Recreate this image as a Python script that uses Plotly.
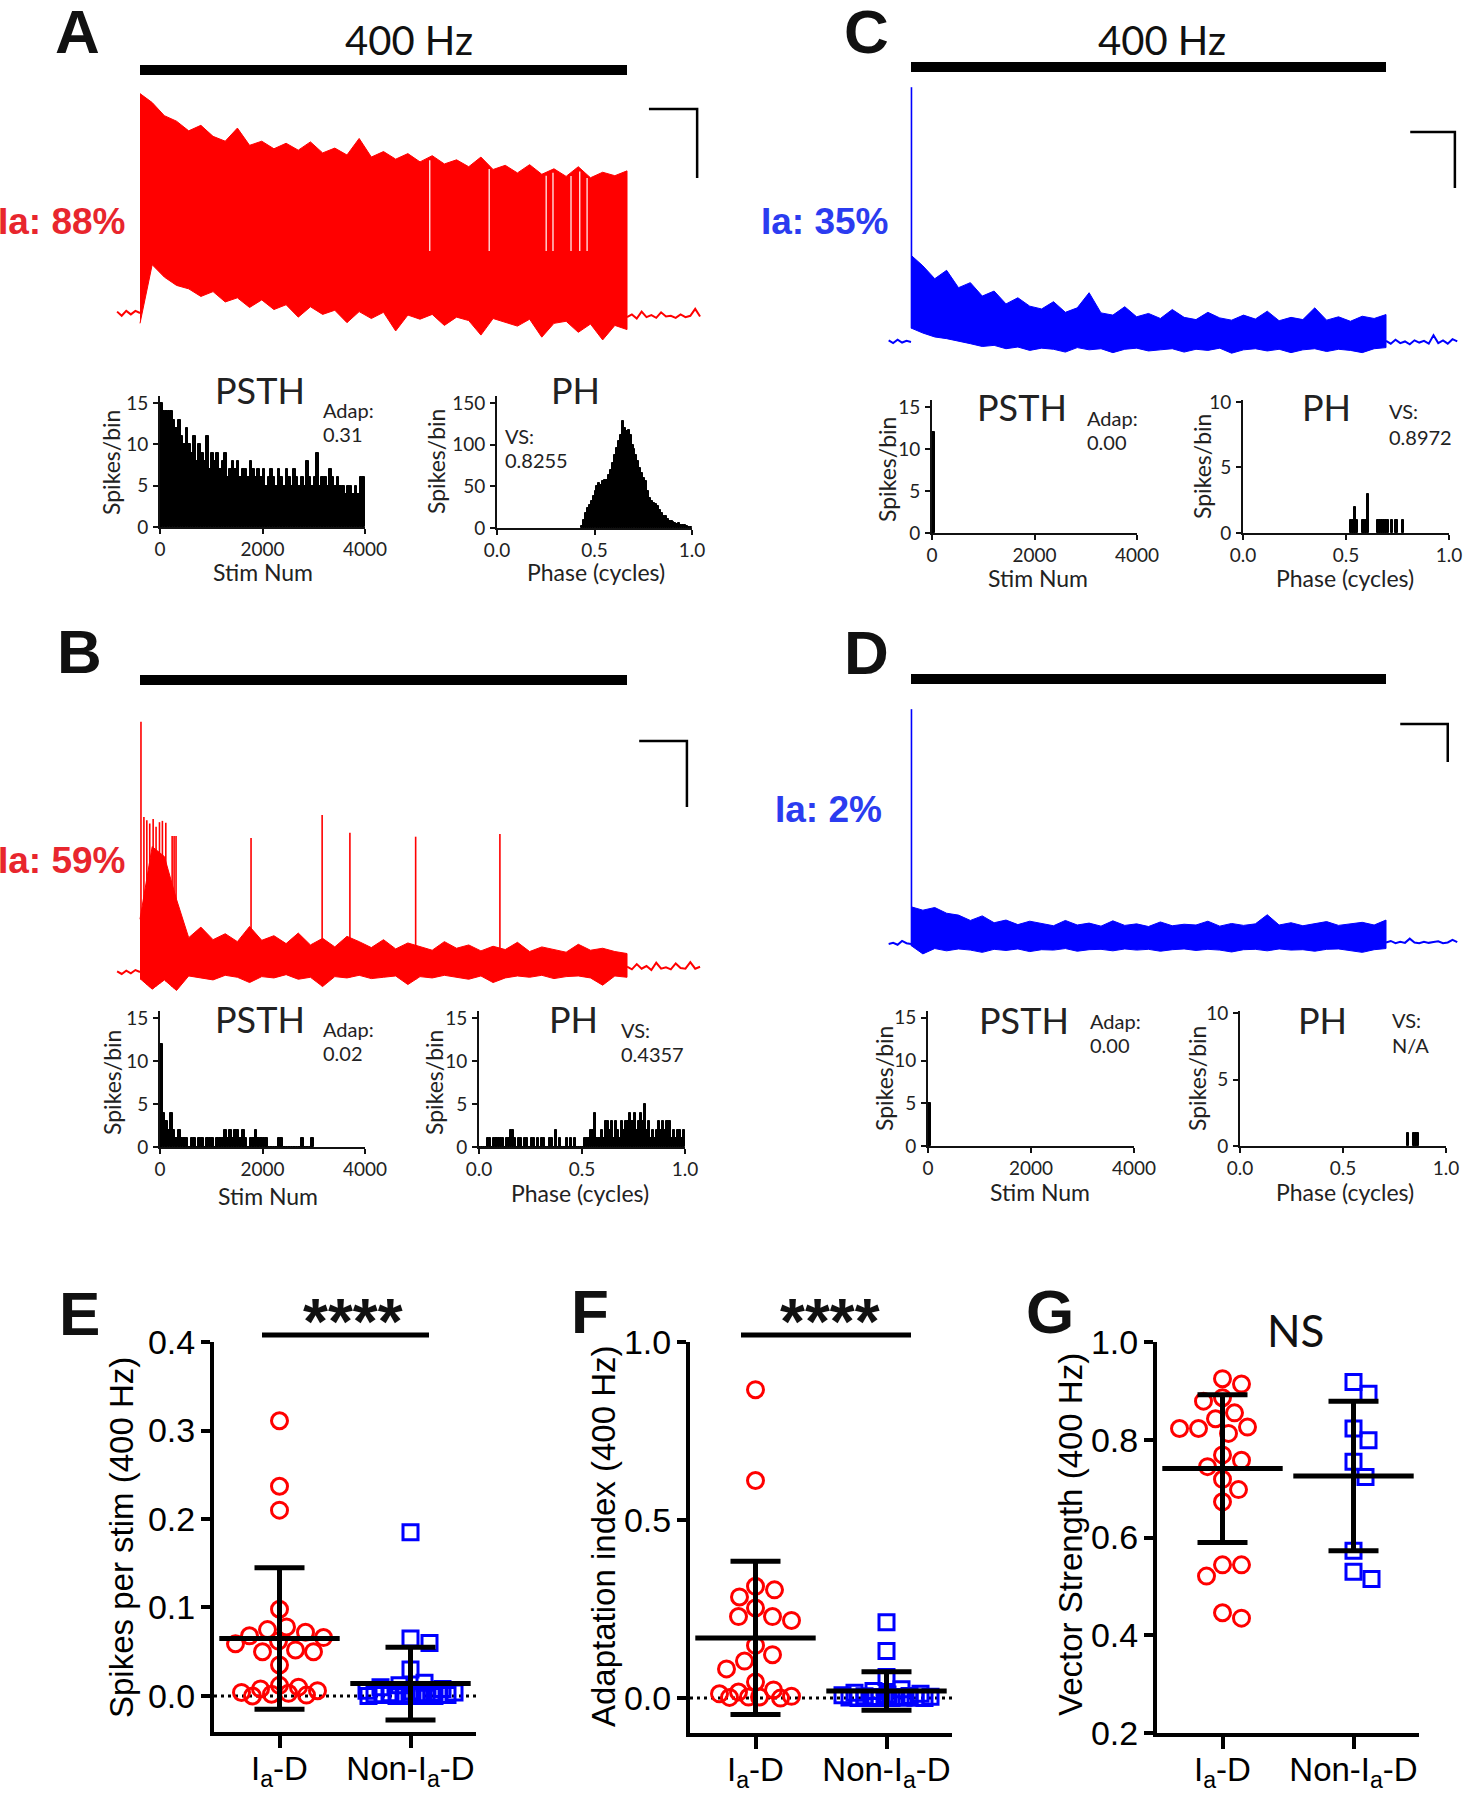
import numpy as np
import plotly.graph_objects as go

W, H = 1466, 1800
RED, BLUE = "#ff0000", "#0000ff"
RED_TXT, BLUE_TXT = "#e8262d", "#2b3cf0"
INK = "#111111"

# ── voltage traces (mV re rest); envelopes sampled every 0.25 s of the 10 s, 400 Hz train ──
env_t = np.arange(41) * 0.25

pre_a = [0.2, -0.4, 0.3, -0.2, 0.3, 0.0]
upper_a = [31.8, 30.5, 28.6, 27.8, 26.4, 27.2, 25.6, 24.9, 26.8, 24.3, 24.9, 23.8, 24.6, 23.6,
           24.8, 23.2, 23.9, 22.9, 25.3, 22.6, 23.4, 22.3, 23.1, 21.9, 22.8, 21.6, 22.2, 21.2,
           22.6, 20.8, 21.4, 20.3, 21.5, 20.1, 20.9, 19.8, 21.2, 19.6, 20.4, 19.9, 20.6]
lower_a = [-1.5, 7.0, 5.2, 4.0, 3.5, 2.4, 3.1, 1.6, 2.2, 0.8, 1.9, 0.5, 1.2, -0.6, 0.9, -0.2,
           0.4, -1.4, 0.2, -0.8, 0.1, -2.6, -0.3, -0.9, -0.2, -1.8, -0.6, -1.1, -3.2, -0.8,
           -1.3, -1.9, -0.9, -3.5, -1.5, -1.2, -2.8, -1.6, -3.9, -1.8, -2.4]
post_a = [-0.6, -0.2, -0.8, 0.2, -0.6, -0.3, -0.7, 0.1, -0.5, -0.4, -0.7, -0.2, -0.6, -0.4, 0.6, -0.5]
fail_t_a = [5.95, 7.17, 8.34, 8.48, 8.85, 9.03, 9.18]

pre_b = [0.1, -0.3, 0.2, -0.2, 0.3, 0.0]
upper_b = [8.0, 19.0, 17.5, 11.0, 5.2, 6.8, 4.9, 5.8, 4.6, 6.9, 4.8, 5.5, 4.3, 5.9, 4.1, 5.1,
           3.8, 5.4, 4.6, 3.7, 4.9, 3.5, 4.4, 3.9, 3.3, 4.6, 3.6, 4.1, 3.2, 3.9, 3.4, 4.5,
           3.1, 3.8, 3.4, 3.0, 4.2, 3.3, 3.6, 3.1, 2.8]
lower_b = [-1.0, -2.6, -1.2, -2.8, -0.6, -0.9, -1.2, -0.5, -0.8, -1.6, -0.7, -0.9, -0.4, -1.1,
           -0.8, -2.2, -0.7, -0.9, -0.5, -1.0, -0.8, -0.6, -1.9, -0.7, -0.9, -0.5, -0.8, -1.1,
           -0.6, -1.6, -0.9, -0.6, -0.8, -0.5, -1.0, -0.7, -0.6, -0.9, -2.0, -0.6, -0.8]
post_b = [0.8, 0.4, 1.2, 0.5, 0.9, 0.3, 1.4, 0.5, 0.7, 0.4, 1.3, 0.6, 0.5, 1.5, 0.5, 0.8]
spk_b_t = [0.02, 0.08, 0.14, 0.20, 0.27, 0.33, 0.40, 0.46, 0.53, 0.66, 0.70, 0.74,
           2.28, 3.74, 4.31, 5.66, 7.39]
spk_b_v = [37.9, 23.5, 23.0, 22.5, 23.2, 22.0, 22.7, 22.9, 22.6, 20.6, 20.6, 20.6,
           20.3, 23.8, 21.1, 20.5, 20.9]

pre_c = [0.3, -0.2, 0.4, -0.1, 0.2, 0.0]
upper_c = [15.5, 13.6, 11.3, 12.8, 9.7, 10.6, 8.2, 9.1, 6.8, 7.9, 6.4, 5.9, 7.2, 5.3, 6.1, 8.8,
           5.2, 4.8, 6.3, 4.5, 5.1, 4.2, 5.8, 4.4, 4.0, 5.3, 4.3, 3.9, 4.8, 4.1, 5.5, 3.8,
           4.4, 4.0, 6.1, 3.9, 4.5, 3.7, 4.6, 4.2, 4.9]
lower_c = [2.5, 1.6, 0.9, 0.6, 0.2, -0.3, -0.8, -0.6, -1.2, -0.9, -1.5, -1.1, -1.3, -1.8, -1.0,
           -1.4, -1.2, -1.9, -1.3, -1.1, -1.6, -1.4, -1.2, -1.8, -1.3, -1.5, -1.1, -2.0, -1.4,
           -1.2, -1.6, -1.3, -1.9, -1.4, -1.2, -1.7, -1.3, -1.5, -1.9, -1.2, -1.0]
post_c = [0.2, -0.3, 0.4, -0.2, 0.1, -0.4, 0.3, -0.1, 0.2, -0.3, 1.2, -0.2, 0.3, -0.3, 0.5, 0.1]
spk_c_t = [0.01]
spk_c_v = [45.5]

pre_d = [0.0, 0.3, -0.2, 0.8, 0.2, 0.0]
upper_d = [9.8, 8.9, 9.6, 8.1, 7.6, 6.2, 7.4, 5.6, 6.3, 5.1, 6.0, 5.4, 4.8, 6.2, 5.0, 5.5, 4.7,
           6.1, 4.9, 5.3, 4.6, 5.8, 4.8, 5.2, 5.0, 6.0, 4.7, 5.4, 4.9, 5.3, 7.7, 5.0, 5.6, 4.8,
           5.4, 5.9, 4.9, 5.3, 5.7, 5.0, 6.3]
lower_d = [-0.4, -2.6, -1.2, -1.8, -1.3, -1.6, -2.2, -1.4, -1.7, -1.3, -2.0, -1.5, -1.6, -1.2,
           -1.9, -1.5, -1.4, -1.8, -1.3, -1.6, -1.4, -1.9, -1.5, -1.3, -1.7, -1.4, -1.6, -2.1,
           -1.5, -1.4, -1.8, -1.3, -1.6, -1.5, -1.9, -1.4, -1.3, -1.7, -2.2, -1.5, -1.2]
post_d = [0.4, 0.8, 0.2, 0.6, 0.3, 1.4, 0.4, 0.2, 0.6, 0.3, 0.5, 0.7, 0.2, 0.4, 1.1, 0.5]
spk_d_t = [0.01]
spk_d_v = [61.8]

# ── PSTH (50-stim bins) and phase histograms (0.01-cycle bins) ──
psth_a = [15, 14, 14, 14, 14, 13, 12, 13, 11, 10, 12, 10, 9, 11, 8, 10, 9, 8, 11, 7,
          9, 8, 9, 7, 8, 9, 6, 7, 8, 7, 8, 6, 7, 7, 6, 8, 7, 6, 7, 6,
          7, 5, 6, 7, 6, 5, 7, 6, 5, 7, 6, 5, 7, 6, 5, 6, 5, 8, 6, 5,
          6, 9, 5, 6, 6, 5, 7, 6, 5, 6, 5, 5, 4, 5, 5, 4, 5, 4, 6, 6]
ph_a_start = 0.43
ph_a = [3, 10, 18, 24, 28, 32, 38, 44, 50, 54, 52, 56, 58, 58, 64, 70, 78, 88, 96, 105,
        112, 128, 120, 116, 118, 112, 100, 95, 88, 80, 72, 66, 60, 56, 45, 36, 32, 30, 29,
        27, 22, 18, 15, 14, 11, 9, 8, 7, 6, 5, 6, 4, 4, 4, 2, 1, 1]

psth_b = [12, 4, 3, 2, 4, 2, 1, 2, 1, 1, 1, 0, 1, 1, 0, 1, 1, 0, 1, 1,
          1, 0, 1, 1, 1, 2, 1, 2, 1, 2, 2, 1, 2, 1, 0, 1, 1, 2, 1, 1,
          1, 1, 0, 0, 0, 0, 1, 1, 0, 0, 0, 0, 0, 0, 0, 1, 0, 0, 0, 1]
ph_b = [0, 0, 0, 0, 1, 1, 0, 1, 1, 1, 1, 1, 0, 1, 1, 2, 2, 1, 0, 1,
        1, 0, 1, 1, 0, 1, 1, 0, 1, 0, 1, 1, 0, 0, 1, 1, 0, 2, 0, 1,
        0, 0, 1, 0, 1, 0, 1, 0, 0, 0, 0, 1, 1, 1, 2, 2, 4, 1, 1, 2,
        1, 3, 3, 2, 3, 1, 3, 2, 1, 3, 2, 3, 3, 4, 3, 4, 2, 3, 4, 3,
        5, 2, 3, 1, 2, 1, 2, 3, 2, 3, 2, 3, 3, 1, 2, 1, 2, 2, 1, 2]

psth_c = [12]
ph_c_phase = [0.52, 0.53, 0.54, 0.55, 0.58, 0.59, 0.60, 0.65, 0.66, 0.67, 0.68, 0.69, 0.70, 0.72, 0.74, 0.77]
ph_c_count = [1, 1, 2, 1, 1, 1, 3, 1, 1, 1, 1, 1, 1, 1, 1, 1]

psth_d = [5]
ph_d_phase = [0.81, 0.84, 0.85, 0.86]
ph_d_count = [1, 1, 1, 1]

# ── population data (E-G) ──
groups = ["I<sub>a</sub>-D", "Non-I<sub>a</sub>-D"]
spk_ia = [0.311, 0.237, 0.210, 0.098, 0.078, 0.075, 0.072, 0.068, 0.066, 0.062, 0.059, 0.052,
          0.050, 0.050, 0.035, 0.012, 0.010, 0.008, 0.006, 0.004, 0.003, 0.002, 0.001, 0.000]
spk_non = [0.185, 0.065, 0.060, 0.030, 0.015, 0.012, 0.010, 0.008, 0.006, 0.005, 0.004, 0.004,
           0.003, 0.003, 0.002, 0.002, 0.001, 0.001, 0.001, 0.000, 0.000, 0.000, 0.000, 0.000, 0.000]
spk_mean = [0.065, 0.014]
spk_sd = [0.080, 0.041]

adap_ia = [0.866, 0.611, 0.314, 0.304, 0.284, 0.253, 0.229, 0.229, 0.218, 0.148, 0.122, 0.104,
           0.082, 0.045, 0.023, 0.017, 0.012, 0.005, 0.003, 0.003, 0.002, 0.000]
adap_non = [0.213, 0.132, 0.059, 0.025, 0.020, 0.015, 0.012, 0.010, 0.008, 0.006, 0.005, 0.004,
            0.003, 0.003, 0.002, 0.002, 0.001, 0.001, 0.000, 0.000, 0.000, 0.000, 0.000]
adap_mean = [0.169, 0.020]
adap_sd = [0.215, 0.054]

vs_ia = [0.925, 0.914, 0.886, 0.879, 0.855, 0.843, 0.826, 0.823, 0.823, 0.813, 0.769, 0.758,
         0.745, 0.719, 0.698, 0.673, 0.544, 0.544, 0.521, 0.446, 0.435]
vs_non = [0.918, 0.894, 0.823, 0.799, 0.755, 0.724, 0.573, 0.530, 0.515]
vs_mean = [0.741, 0.726]
vs_sd = [0.151, 0.153]


def ax(n):
    return ("x", "y") if n == 1 else (f"x{n}", f"y{n}")


def xdom(a, b):
    return [a / W, b / W]


def ydom(top, bottom):
    return [1 - bottom / H, 1 - top / H]


fig = go.Figure()
layout = {}
shapes = []
annots = []


def txt(x, y, text, size, color=INK, family="Lato", xanchor="center", angle=0):
    annots.append(dict(x=x / W, y=1 - y / H, xref="paper", yref="paper", text=text,
                       showarrow=False, xanchor=xanchor, yanchor="middle", textangle=angle,
                       font=dict(family=family, size=size, color=color)))


# ── trace panels ──
def trace_panel(n, xd, xr, yd, yr, pre, upper, lower, post, color, spk_t=(), spk_v=(),
                bar_y=0, sb=(0, 0, 0)):
    xa, ya = ax(n)
    layout[xa.replace("x", "xaxis")] = dict(domain=xdom(*xd), range=xr, visible=False,
                                            anchor=ya, automargin=False)
    layout[ya.replace("y", "yaxis")] = dict(domain=ydom(*yd), range=yr, visible=False,
                                            anchor=xa, automargin=False)
    up, lo = np.array(upper), np.array(lower)
    fig.add_trace(go.Scatter(x=np.r_[env_t, env_t[::-1]], y=np.r_[up, lo[::-1]], fill="toself",
                             fillcolor=color, mode="lines", line=dict(color=color, width=1),
                             xaxis=xa, yaxis=ya))
    t_pre = np.linspace(-0.47, 0, len(pre))
    t_post = np.linspace(10, 11.5, len(post))
    for tt, vv in ((t_pre, pre), (t_post, post)):
        fig.add_trace(go.Scatter(x=tt, y=vv, mode="lines", line=dict(color=color, width=2),
                                 xaxis=xa, yaxis=ya))
    if len(spk_t):
        xs, ys = [], []
        for t, v in zip(spk_t, spk_v):
            xs += [t, t, None]
            ys += [np.interp(t, env_t, lo), v, None]
        fig.add_trace(go.Scatter(x=xs, y=ys, mode="lines", line=dict(color=color, width=1.6),
                                 xaxis=xa, yaxis=ya))
    shapes.append(dict(type="line", xref=xa, yref=ya, x0=0, x1=10, y0=bar_y, y1=bar_y,
                       line=dict(color="black", width=10)))
    t0, t1, v0 = sb
    shapes.append(dict(type="path", xref=xa, yref=ya,
                       path=f"M{t0},{v0} L{t1},{v0} L{t1},{v0 - 10}",
                       line=dict(color="black", width=2.5)))


trace_panel(1, (110, 710), [-0.616, 11.704], (55, 360), [-6.812, 37.391],
            pre_a, upper_a, lower_a, post_a, RED, bar_y=35.22, sb=(10.45, 11.44, 29.57))
gx, gy = [], []
for t in fail_t_a:
    gx += [t, t, None]
    gy += [9, np.interp(t, env_t, upper_a) - 0.5, None]
fig.add_trace(go.Scatter(x=gx, y=gy, mode="lines", line=dict(color="white", width=1.2),
                         xaxis="x", yaxis="y"))
trace_panel(2, (110, 710), [-0.616, 11.704], (665, 1000), [-4.242, 46.515],
            pre_b, upper_b, lower_b, post_b, RED, spk_b_t, spk_b_v, bar_y=44.24,
            sb=(10.25, 11.23, 35.0))
trace_panel(3, (880, 1466), [-0.6526, 11.6842], (55, 370), [-5.0, 51.25],
            pre_c, upper_c, lower_c, post_c, BLUE, spk_c_t, spk_c_v, bar_y=49.1,
            sb=(10.51, 11.45, 37.5))
trace_panel(4, (880, 1466), [-0.6526, 11.6842], (665, 975), [-8.158, 73.42],
            pre_d, upper_d, lower_d, post_d, BLUE, spk_d_t, spk_d_v, bar_y=69.74,
            sb=(10.3, 11.3, 57.9))


# ── histogram panels ──
def hist_axes(n, xd, yd, xr, yr, xt, yt, xfmt):
    xa, ya = ax(n)
    common = dict(showline=True, linecolor=INK, linewidth=2, ticks="outside", ticklen=5,
                  tickwidth=2, tickcolor=INK, showgrid=False, zeroline=False, automargin=False,
                  tickfont=dict(family="Lato", size=19, color="#222"), fixedrange=True)
    layout[f"xaxis{n}"] = dict(domain=xdom(*xd), range=xr, anchor=ya, tickvals=xt,
                               tickformat=xfmt, ticklabelstandoff=-1, **common)
    layout[f"yaxis{n}"] = dict(domain=ydom(*yd), range=yr, anchor=xa, tickvals=yt,
                               ticklabelstandoff=1, **common)
    return xa, ya


def bars(n, x, y, w):
    xa, ya = ax(n)
    fig.add_trace(go.Bar(x=x, y=y, width=w, marker=dict(color="black", line=dict(color="black", width=1)),
                         xaxis=xa, yaxis=ya))


psth_x = lambda k: 25 + 50 * np.arange(k)
hist_axes(5, (160, 365), (396, 527), [0, 4000], [0, 15.85], [0, 2000, 4000], [0, 5, 10, 15], "d")
bars(5, psth_x(len(psth_a)), psth_a, 50)
hist_axes(6, (497, 692), (396, 528), [0, 1], [0, 158.4], [0, 0.5, 1], [0, 50, 100, 150], ".1f")
bars(6, ph_a_start + 0.005 + 0.01 * np.arange(len(ph_a)), ph_a, 0.01)

hist_axes(7, (160, 365), (1011, 1147), [0, 4000], [0, 15.8], [0, 2000, 4000], [0, 5, 10, 15], "d")
bars(7, psth_x(len(psth_b)), psth_b, 50)
hist_axes(8, (479, 685), (1011, 1147), [0, 1], [0, 15.8], [0, 0.5, 1], [0, 5, 10, 15], ".1f")
bars(8, 0.005 + 0.01 * np.arange(len(ph_b)), ph_b, 0.01)

hist_axes(9, (932, 1137), (400, 533), [0, 4000], [0, 15.83], [0, 2000, 4000], [0, 5, 10, 15], "d")
bars(9, psth_x(len(psth_c)), psth_c, 50)
hist_axes(10, (1243, 1449), (400, 533), [0, 1], [0, 10.15], [0, 0.5, 1], [0, 5, 10], ".1f")
bars(10, np.array(ph_c_phase) + 0.005, ph_c_count, 0.01)

hist_axes(11, (928, 1134), (1011, 1146), [0, 4000], [0, 15.8], [0, 2000, 4000], [0, 5, 10, 15], "d")
bars(11, psth_x(len(psth_d)), psth_d, 50)
hist_axes(12, (1240, 1446), (1011, 1146), [0, 1], [0, 10.15], [0, 0.5, 1], [0, 5, 10], ".1f")
bars(12, np.array(ph_d_phase) + 0.005, ph_d_count, 0.01)


# ── scatter-dot panels ──
def swarm(vals, ppu_y, ppu_x=131.0, diam=19.0, cap=44):
    cands = [0] + [s * k for k in range(1, cap + 1) for s in (1, -1)]
    placed, offs = [], np.zeros(len(vals))
    for i in np.argsort(vals)[::-1]:
        y = vals[i] * ppu_y
        chosen, best_c, best_d = None, 0, -1.0
        for c in cands:
            d = min([np.hypot(c - px, y - py) for px, py in placed], default=1e9)
            if d >= diam:
                chosen = c
                break
            if d > best_d:
                best_c, best_d = c, d
        if chosen is None:
            chosen = best_c
        placed.append((chosen, y))
        offs[i] = chosen / ppu_x
    return offs


def dot_panel(n, xd, yd, yr, yt, ia, non, mean, sd, ppu_y, zero_line):
    xa, ya = ax(n)
    common = dict(showline=True, linecolor="black", linewidth=4, ticks="outside", automargin=False,
                  tickwidth=3.5, tickcolor="black", showgrid=False, zeroline=False, fixedrange=True)
    layout[f"xaxis{n}"] = dict(domain=xdom(*xd), range=[-0.5, 1.5], anchor=ya, tickvals=[0, 1],
                               ticktext=groups, ticklen=12, ticklabelstandoff=-8,
                               tickfont=dict(family="Liberation Sans", size=33, color="black"), **common)
    layout[f"yaxis{n}"] = dict(domain=ydom(*yd), range=yr, anchor=xa, tickvals=yt, tickformat=".1f",
                               ticklen=9, ticklabelstandoff=-1,
                               tickfont=dict(family="Liberation Sans", size=34, color="black"), **common)
    if zero_line:
        fig.add_trace(go.Scatter(x=[-0.5, 1.5], y=[0, 0], mode="lines",
                                 line=dict(color="black", width=3, dash="3px,4px"), xaxis=xa, yaxis=ya))
    ia, non = np.array(ia), np.array(non)
    fig.add_trace(go.Scatter(x=0 + swarm(ia, ppu_y), y=ia, mode="markers", xaxis=xa, yaxis=ya,
                             marker=dict(symbol="circle-open", size=16, color=RED, line=dict(width=3, color=RED))))
    fig.add_trace(go.Scatter(x=1 + swarm(non, ppu_y), y=non, mode="markers", xaxis=xa, yaxis=ya,
                             marker=dict(symbol="square-open", size=15, color=BLUE, line=dict(width=3, color=BLUE))))
    fig.add_trace(go.Scatter(x=[0, 1], y=mean, mode="markers", xaxis=xa, yaxis=ya,
                             marker=dict(symbol="line-ew", size=86, color="black",
                                         line=dict(width=5, color="black")),
                             error_y=dict(type="data", array=sd, visible=True, thickness=5,
                                          width=25, color="black")))


dot_panel(13, (214, 476), (1342, 1732), [-0.0407, 0.4], [0, 0.1, 0.2, 0.3, 0.4],
          spk_ia, spk_non, spk_mean, spk_sd, 885.0, True)
dot_panel(14, (690, 952), (1342, 1733), [-0.098, 1.0], [0, 0.5, 1.0],
          adap_ia, adap_non, adap_mean, adap_sd, 356.0, True)
dot_panel(15, (1157, 1419), (1342, 1733), [0.2, 1.0], [0.2, 0.4, 0.6, 0.8, 1.0],
          vs_ia, vs_non, vs_mean, vs_sd, 489.0, False)

# significance bars
for x0, x1 in ((262, 429), (741, 911)):
    shapes.append(dict(type="line", xref="paper", yref="paper", x0=x0 / W, x1=x1 / W,
                       y0=1 - 1335 / H, y1=1 - 1335 / H, line=dict(color="black", width=5)))

# ── text ──
for lab, x, y in (("A", 77, 31), ("B", 79, 651), ("C", 866, 31), ("D", 866, 652),
                  ("E", 79, 1313), ("F", 590, 1311), ("G", 1050, 1311)):
    txt(x, y, f"<b>{lab}</b>", 62, INK, "Liberation Sans")

txt(409, 40, "400 Hz", 40)
txt(1162, 40, "400 Hz", 40)

txt(128, 222, "<b>Ia: 88%</b>", 37, RED_TXT, "Liberation Sans", "right")
txt(128, 861, "<b>Ia: 59%</b>", 37, RED_TXT, "Liberation Sans", "right")
txt(891, 222, "<b>Ia: 35%</b>", 37, BLUE_TXT, "Liberation Sans", "right")
txt(884, 810, "<b>Ia: 2%</b>", 37, BLUE_TXT, "Liberation Sans", "right")

for x, y, s in ((260, 390, "PSTH"), (575, 390, "PH"), (260, 1019, "PSTH"), (573, 1019, "PH"),
                (1022, 407, "PSTH"), (1326, 407, "PH"), (1024, 1020, "PSTH"), (1322, 1020, "PH")):
    txt(x, y, s, 36, "#222")

for x, y, s in ((321, 410, "Adap:"), (321, 434, "0.31"), (503, 436, "VS:"), (503, 460, "0.8255"),
                (321, 1029, "Adap:"), (321, 1053, "0.02"), (619, 1030, "VS:"), (619, 1054, "0.4357"),
                (1085, 418, "Adap:"), (1085, 442, "0.00"), (1387, 411, "VS:"), (1387, 437, "0.8972"),
                (1088, 1021, "Adap:"), (1088, 1045, "0.00"), (1390, 1020, "VS:"), (1390, 1045, "N/A")):
    txt(x, y, s, 20, "#222", xanchor="left")

for x, y in ((111, 462), (436, 462), (112, 1083), (434, 1083),
             (887, 470), (1202, 467), (884, 1079), (1197, 1079)):
    txt(x, y, "Spikes/bin", 23, "#222", angle=-90)
for x, y in ((263, 572), (268, 1196), (1038, 578), (1040, 1192)):
    txt(x, y, "Stim Num", 23, "#222")
for x, y in ((596, 572), (580, 1193), (1345, 578), (1345, 1192)):
    txt(x, y, "Phase (cycles)", 23, "#222")

txt(121, 1538, "Spikes per stim (400 Hz)", 33, "black", "Liberation Sans", angle=-90)
txt(603, 1536, "Adaptation index (400 Hz)", 33, "black", "Liberation Sans", angle=-90)
txt(1070, 1535, "Vector Strength (400 Hz)", 33, "black", "Liberation Sans", angle=-90)

txt(353, 1322, "<b>****</b>", 64, INK, "Liberation Sans")
txt(830, 1322, "<b>****</b>", 64, INK, "Liberation Sans")
txt(1295, 1330, "NS", 44, INK)

fig.update_layout(template="none", width=W, height=H,
                  margin=dict(l=0, r=0, t=0, b=0, pad=0, autoexpand=False), showlegend=False,
                  paper_bgcolor="white", plot_bgcolor="white", bargap=0,
                  font=dict(family="Liberation Sans", color=INK),
                  shapes=shapes, annotations=annots, **layout)
fig.write_html("out.html", config={"displayModeBar": False},
               post_script="document.body.style.margin='0px';")
